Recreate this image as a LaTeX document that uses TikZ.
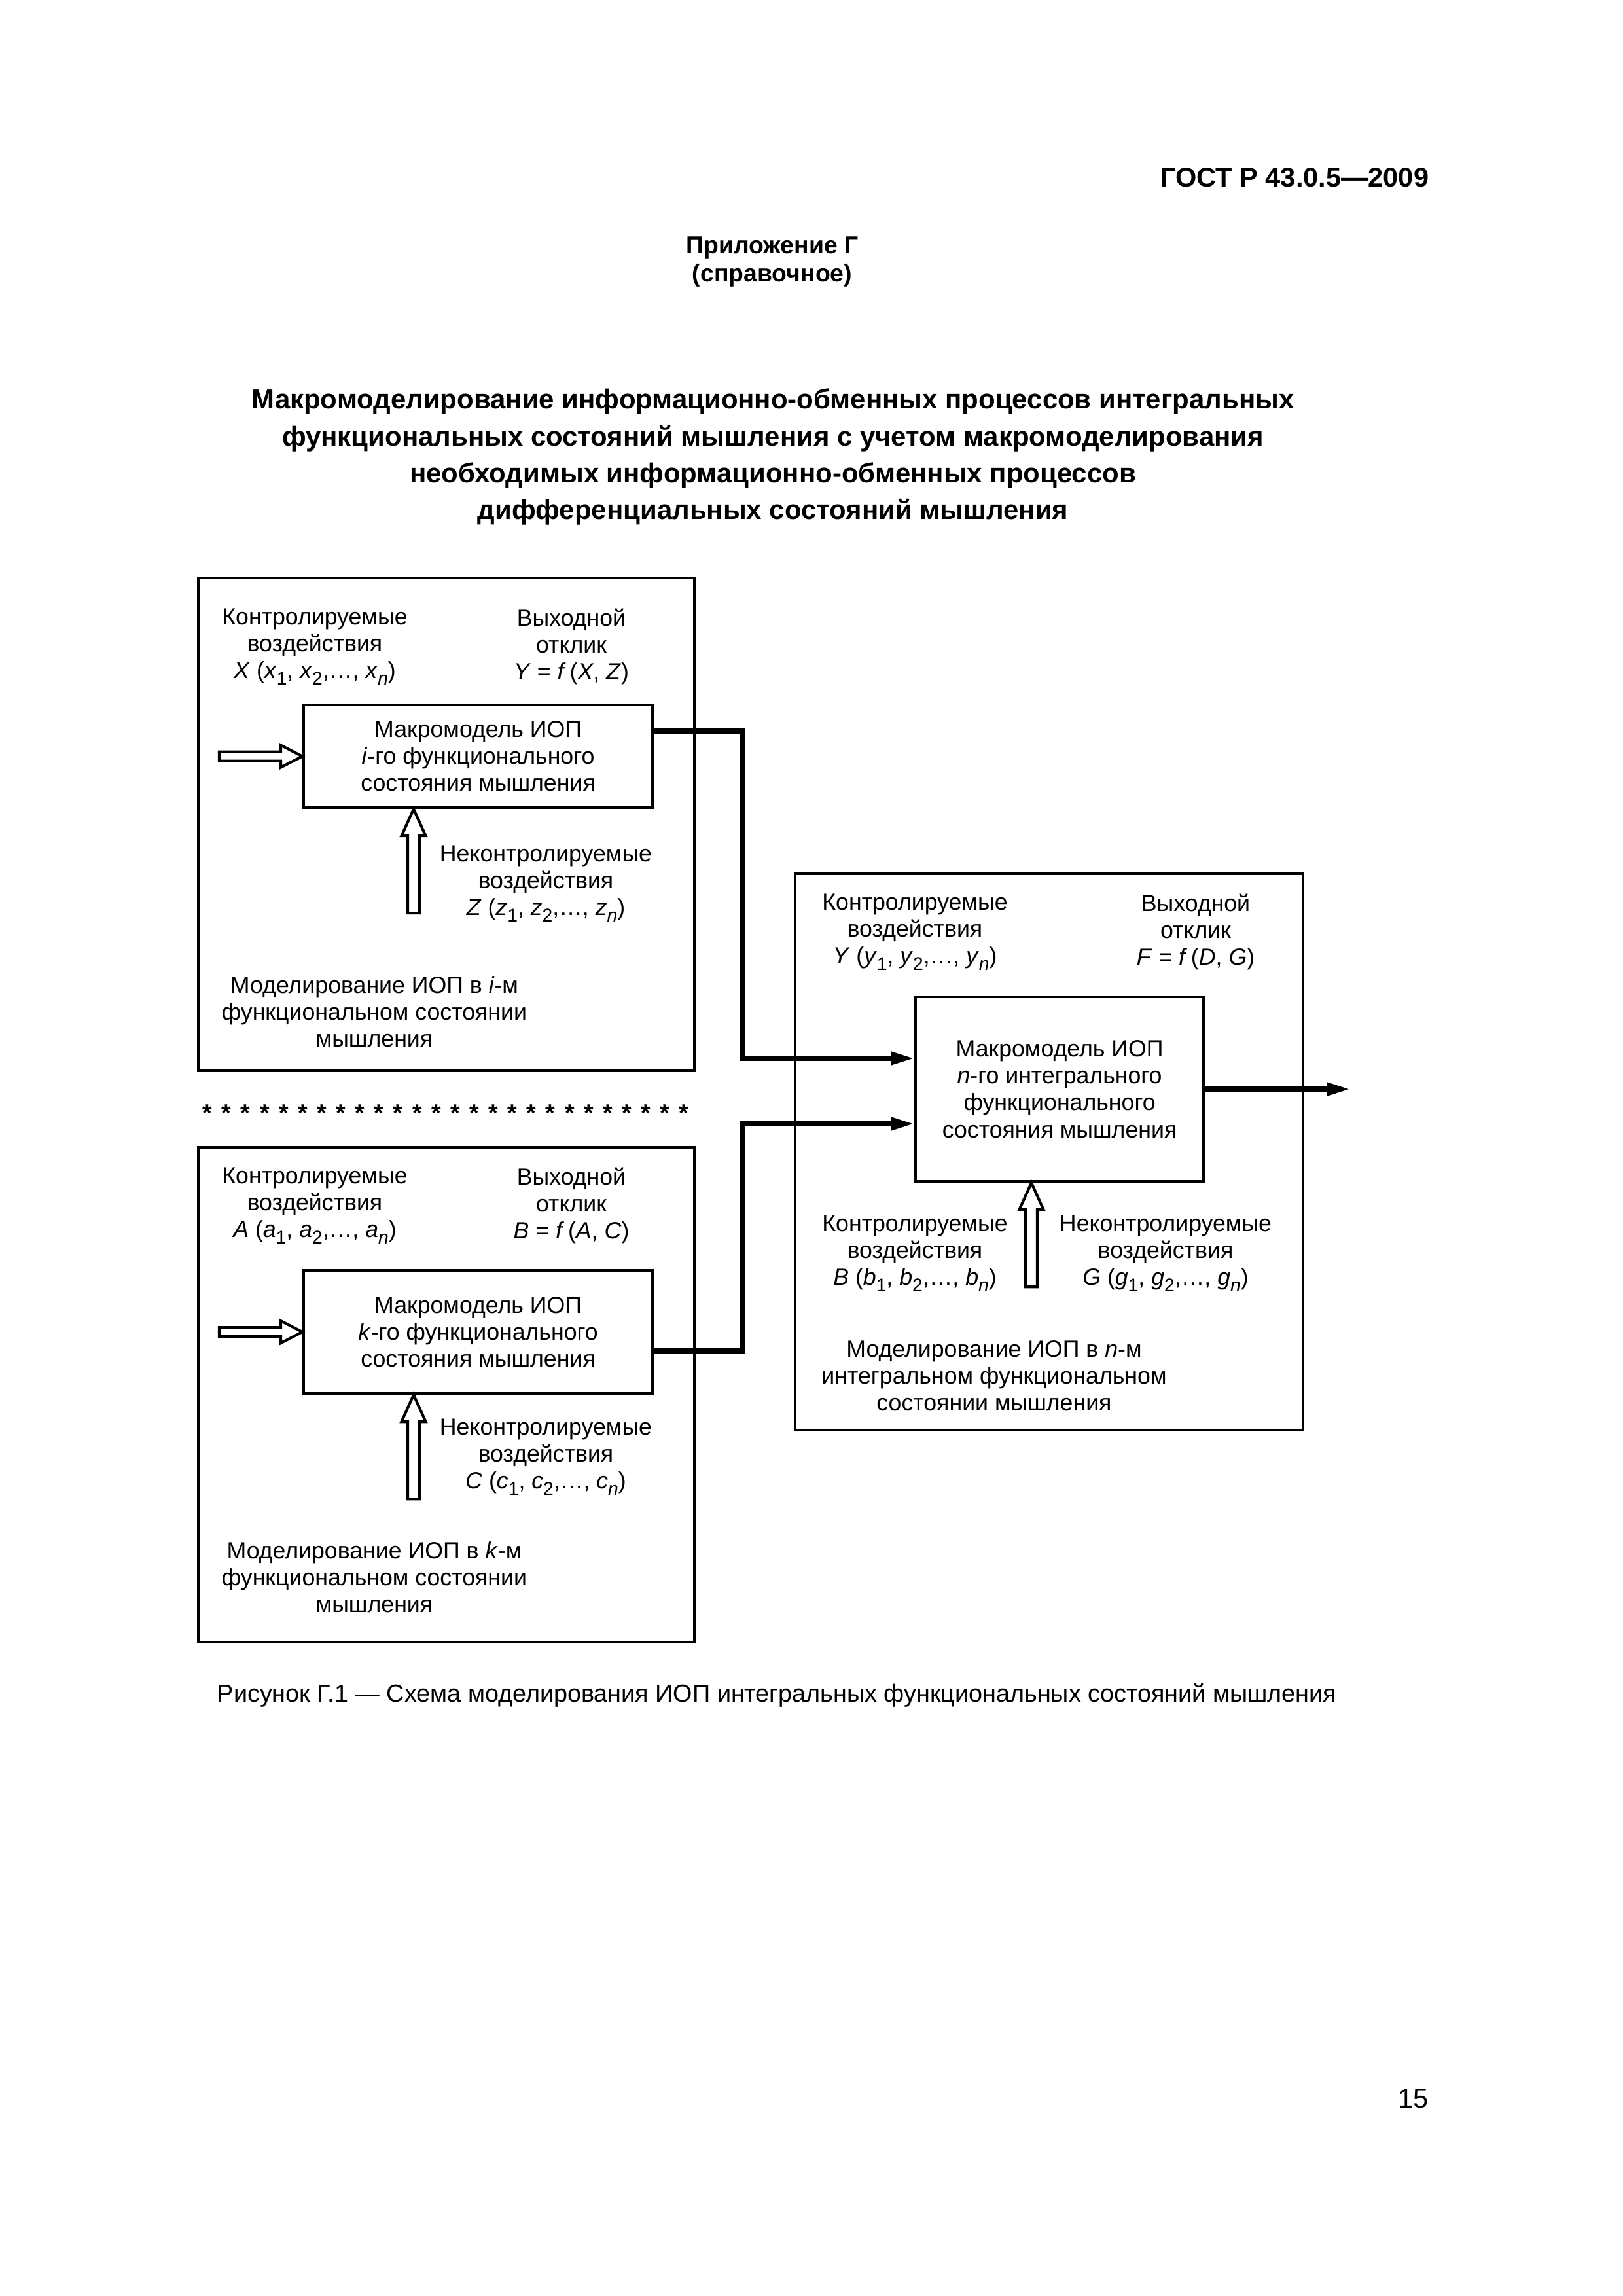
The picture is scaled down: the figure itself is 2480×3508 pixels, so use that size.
\documentclass[tikz,border=0pt]{standalone}
\usepackage{fontspec}
\setmainfont{Liberation Sans}
\usetikzlibrary{arrows.meta,calc}
\newlength\pxu
\setlength\pxu{0.0846774mm}
\newcommand\sbs[1]{\raisebox{-2.3pt}{\fontsize{6.8}{6.8}\selectfont #1}}
\newcommand\hright[1]{\draw[hollow] (#1) ++(-127,-7) -- ++(94,0) -- ++(0,-10) -- (#1) -- ++(-33,17) -- ++(0,-10) -- ++(-94,0) -- cycle;}
\newcommand\hup[1]{\draw[hollow] (#1) ++(-9,159) -- ++(0,-118) -- ++(-9.5,0) -- (#1) -- ++(18.5,41) -- ++(-9.5,0) -- ++(0,118) -- cycle;}
\begin{document}
\begin{tikzpicture}[x=\pxu, y=-\pxu,
  box/.style={draw, line width=1pt, inner sep=0pt, anchor=north west},
  inbox/.style={box, align=center, font=\fontsize{8.6}{9.9}\selectfont},
  lbl/.style={align=center, font=\fontsize{8.6}{9.9}\selectfont, inner sep=0pt},
  conn/.style={line width=1.8pt, -{Triangle[length=3mm,width=1.6mm]}},
  hollow/.style={draw, line width=1pt, fill=white, line join=miter},
  starnode/.style={font=\bfseries\fontsize{9}{9}\selectfont, inner sep=0pt, anchor=base}]
\fill[white] (0,0) rectangle (2480,3508);
\useasboundingbox (0,0) rectangle (2480,3508);

% page texts
\node[font=\bfseries\fontsize{10}{12}\selectfont, anchor=base east, inner sep=0pt] (hdr) at (2184,285) {ГОСТ Р 43.0.5—2009};
\node[font=\bfseries\fontsize{9}{10.4}\selectfont, align=center, inner sep=0pt] (app) at (1180,400) {Приложение Г\\(справочное)};
\node[font=\bfseries\fontsize{10.1}{13.5}\selectfont, align=center, inner sep=0pt] (ttl) at (1181,698) {Макромоделирование информационно-обменных процессов интегральных\\функциональных состояний мышления с учетом макромоделирования\\необходимых информационно-обменных процессов\\дифференциальных состояний мышления};
\node[font=\fontsize{9.1}{11}\selectfont, anchor=base west, inner sep=0pt] (cap) at (331,2600) {Рисунок Г.1 — Схема моделирования ИОП интегральных функциональных состояний мышления};
\node[font=\fontsize{10}{12}\selectfont, anchor=base east, inner sep=0pt] (pg) at (2183,3220) {15};

% outer boxes
\node[box, minimum width=758\pxu, minimum height=753\pxu] (bi) at (301,881) {};
\node[box, minimum width=758\pxu, minimum height=756\pxu] (bk) at (301,1751) {};
\node[box, minimum width=776\pxu, minimum height=850\pxu] (bn) at (1213,1333) {};

% inner boxes
\node[inbox, minimum width=533\pxu, minimum height=157\pxu] (ii) at (462,1075) {Макромодель ИОП\\\textit{i}-го функционального\\состояния мышления};
\node[inbox, minimum width=533\pxu, minimum height=188\pxu] (ik) at (462,1939) {Макромодель ИОП\\\textit{k}-го функционального\\состояния мышления};
\node[inbox, minimum width=440\pxu, minimum height=282\pxu] (in) at (1397,1521) {Макромодель ИОП\\\textit{n}-го интегрального\\функционального\\состояния мышления};

% labels box i
\node[lbl] (ci) at (481,988) {Контролируемые\\воздействия\\\textit{X} (\textit{x}\sbs{1}, \textit{x}\sbs{2},…, \textit{x}\sbs{\textit{n}})};
\node[lbl] (ri) at (873,988) {Выходной\\отклик\\\textit{Y} = \textit{f}\,(\textit{X}, \textit{Z})};
\node[lbl] (ui) at (834,1350) {Неконтролируемые\\воздействия\\\textit{Z} (\textit{z}\sbs{1}, \textit{z}\sbs{2},…, \textit{z}\sbs{\textit{n}})};
\node[lbl] (mi) at (572,1546) {Моделирование ИОП в \textit{i}-м\\функциональном состоянии\\мышления};

% labels box k
\node[lbl] (ck) at (481,1842) {Контролируемые\\воздействия\\\textit{A} (\textit{a}\sbs{1}, \textit{a}\sbs{2},…, \textit{a}\sbs{\textit{n}})};
\node[lbl] (rk) at (873,1842) {Выходной\\отклик\\\textit{B} = \textit{f}\,(\textit{A}, \textit{C})};
\node[lbl] (uk) at (834,2226) {Неконтролируемые\\воздействия\\\textit{C} (\textit{c}\sbs{1}, \textit{c}\sbs{2},…, \textit{c}\sbs{\textit{n}})};
\node[lbl] (mk) at (572,2410) {Моделирование ИОП в \textit{k}-м\\функциональном состоянии\\мышления};

% labels box n
\node[lbl] (cn) at (1398,1424) {Контролируемые\\воздействия\\\textit{Y} (\textit{y}\sbs{1}, \textit{y}\sbs{2},…, \textit{y}\sbs{\textit{n}})};
\node[lbl] (rn) at (1827,1424) {Выходной\\отклик\\\textit{F} = \textit{f}\,(\textit{D}, \textit{G})};
\node[lbl] (cn2) at (1398,1915) {Контролируемые\\воздействия\\\textit{B} (\textit{b}\sbs{1}, \textit{b}\sbs{2},…, \textit{b}\sbs{\textit{n}})};
\node[lbl] (un) at (1781,1915) {Неконтролируемые\\воздействия\\\textit{G} (\textit{g}\sbs{1}, \textit{g}\sbs{2},…, \textit{g}\sbs{\textit{n}})};
\node[lbl] (mn) at (1519,2102) {Моделирование ИОП в \textit{n}-м\\интегральном функциональном\\состоянии мышления};

% stars
\foreach \i in {0,...,25} \node[starnode] (st\i) at ({317+29.12*\i},1713) {*};

% hollow arrows
\coordinate (ti) at ($(ii.south west)+(170,0)$);
\coordinate (tk) at ($(ik.south west)+(170,0)$);
\coordinate (tn) at ($(in.south west)+(179,0)$);
\hright{ii.west}
\hright{ik.west}
\hup{ti}
\hup{tk}
\hup{tn}

% thick connectors
\coordinate (io) at ($(ii.north east)+(0,42)$);
\coordinate (ko) at ($(ik.north east)+(0,125)$);
\coordinate (xj) at (1135,0);
\coordinate (n1) at ($(in.north west)+(0,96)$);
\coordinate (n2) at ($(in.north west)+(0,196)$);
\coordinate (out) at ($(in.east)+(222,0)$);
\draw[conn] (io) -| (xj |- n1) -- (n1);
\draw[conn] (ko) -| (xj |- n2) -- (n2);
\draw[conn] (in.east) -- (out);
\end{tikzpicture}
\end{document}
